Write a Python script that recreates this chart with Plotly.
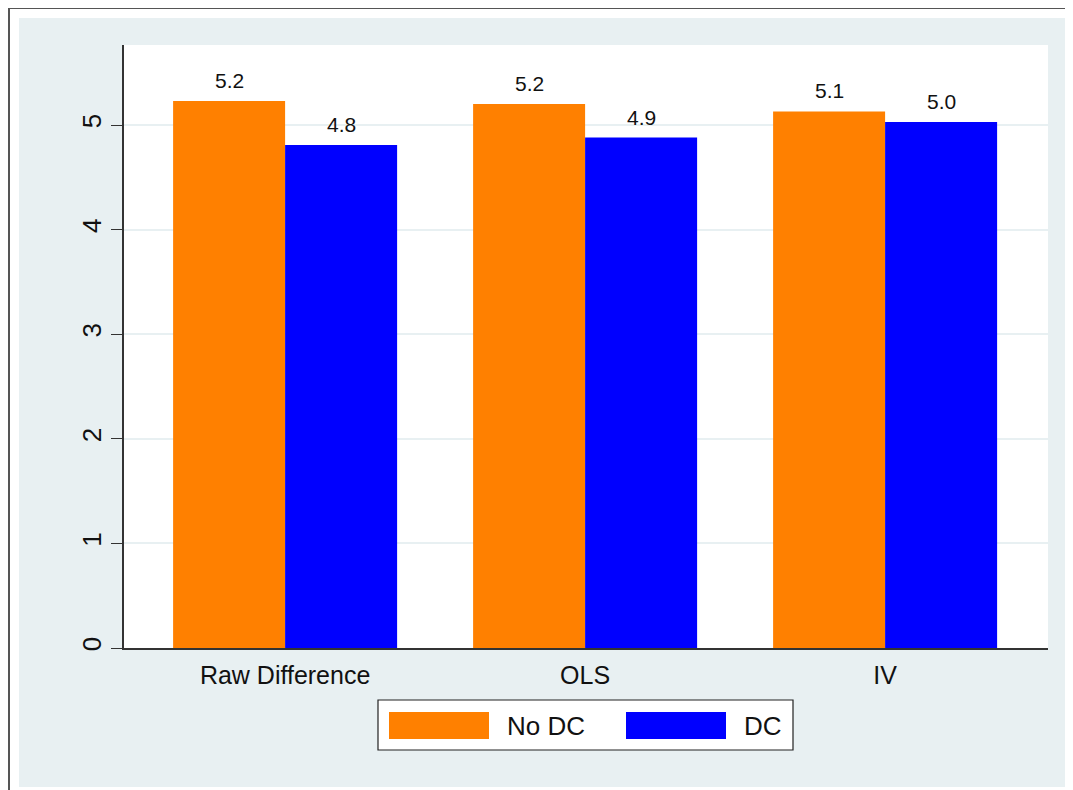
import plotly.graph_objects as go

categories = ["Raw Difference", "OLS", "IV"]
series_names = ["No DC", "DC"]
no_dc = [5.23, 5.20, 5.13]
dc = [4.81, 4.88, 5.03]
y_ticks = [0, 1, 2, 3, 4, 5]
colors = ["#FF8000", "#0000FF"]

# the page body adds an 8px offset; compensate so screen pixels match
O = 8
W, H = 1073 - O, 790 - O
L, R, T, B = 124 - O, 25, 45 - O, 142
PW, PH = W - L - R, H - T - B


def px(x):
    return (x - O - L) / PW


def py(y):
    return (H + O - B - y) / PH


FONT = "Liberation Sans, Arial, sans-serif"
BAR_PX = 112

fig = go.Figure()
annotations = []
for k, (name, vals, col) in enumerate(zip(series_names, [no_dc, dc], colors)):
    fig.add_trace(go.Bar(
        x=categories, y=vals, name=name, marker=dict(color=col, line=dict(width=0)),
        showlegend=False,
    ))
    shift = (-0.5 + k) * BAR_PX
    for c, v in zip(categories, vals):
        annotations.append(dict(x=c, y=v, xref="x", yref="y", text=f"{v:.1f}",
                                showarrow=False, yanchor="bottom", xshift=shift, yshift=7,
                                font=dict(size=21, color="#111", family=FONT)))

shapes = [
    dict(type="rect", xref="paper", yref="paper", x0=px(19), x1=px(1090), y0=py(787), y1=py(18),
         fillcolor="#E8F0F2", line=dict(width=0), layer="below"),
    dict(type="rect", xref="paper", yref="paper", x0=0, x1=1, y0=0, y1=1,
         fillcolor="white", line=dict(width=0), layer="below"),
    dict(type="line", xref="paper", yref="paper", x0=px(9), x1=px(9), y0=py(8), y1=py(800),
         line=dict(color="#555555", width=2)),
    dict(type="line", xref="paper", yref="paper", x0=px(9), x1=px(1080), y0=py(8), y1=py(8),
         line=dict(color="#555555", width=2)),
    dict(type="rect", xref="paper", yref="paper", x0=px(378), x1=px(793), y0=py(750), y1=py(700),
         fillcolor="white", line=dict(color="#222222", width=1.2)),
]

swatch_x = [389, 626]
text_x = [505, 742]
for i, (name, col) in enumerate(zip(series_names, colors)):
    shapes.append(dict(type="rect", xref="paper", yref="paper",
                       x0=px(swatch_x[i]), x1=px(swatch_x[i] + 100), y0=py(739), y1=py(712),
                       fillcolor=col, line=dict(width=0)))
    annotations.append(dict(xref="paper", yref="paper", x=px(text_x[i]), y=py(726),
                            text=name, showarrow=False, xanchor="left", yanchor="middle",
                            font=dict(size=26, color="#111", family=FONT)))

fig.update_layout(
    width=W, height=H,
    margin=dict(l=L, r=R, t=T, b=B, pad=0),
    paper_bgcolor="white", plot_bgcolor="rgba(0,0,0,0)",
    barmode="group", bargap=0.2533, bargroupgap=0,
    font=dict(family=FONT, color="#111"),
    shapes=shapes, annotations=annotations,
    showlegend=False,
    xaxis=dict(range=[-0.537, 2.543], showline=True, linecolor="#333", linewidth=1.5,
               ticks="", showgrid=False, tickfont=dict(size=25, family=FONT, color="#111"),
               zeroline=False, ticklabelstandoff=4),
    yaxis=dict(range=[0, 5.765], tickvals=y_ticks, ticks="outside", ticklen=11,
               tickcolor="#333", tickwidth=1.2, showline=True, linecolor="#333", linewidth=1.5,
               showgrid=True, gridcolor="#E8F0F2", gridwidth=2, zeroline=False,
               tickangle=-90, tickfont=dict(size=26, family=FONT, color="#111")),
)

fig.write_html("out.html")
